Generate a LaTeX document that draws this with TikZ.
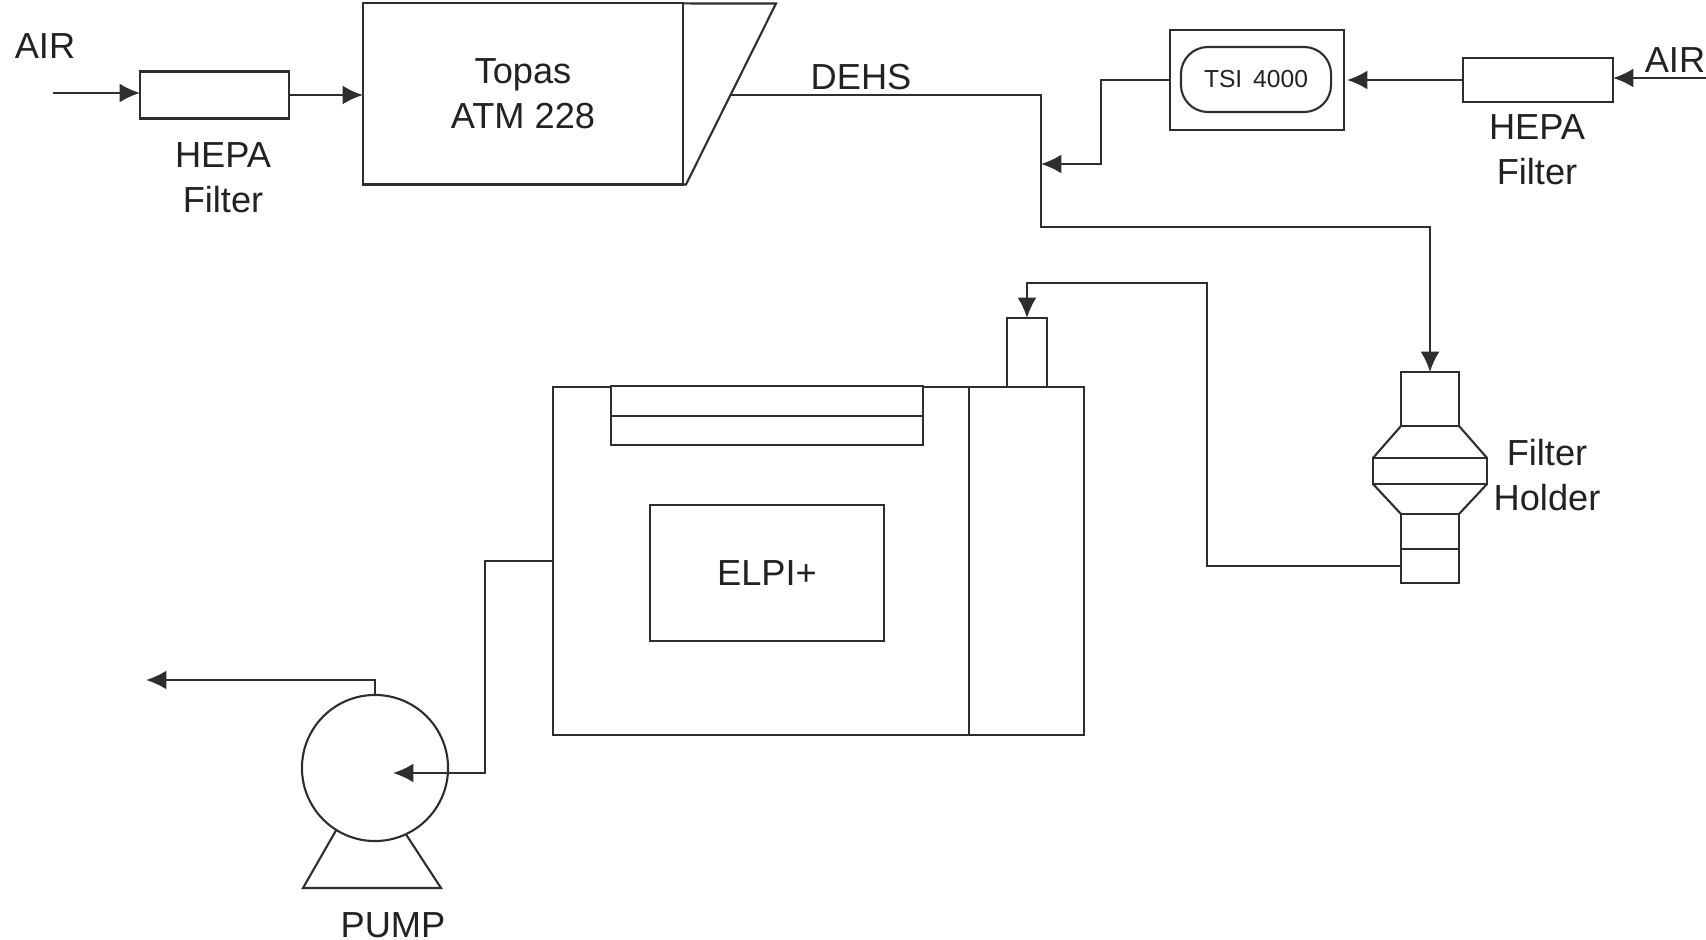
\documentclass[tikz,border=0pt]{standalone}
\usepackage{fontspec}
\setmainfont{Liberation Sans}
\usetikzlibrary{arrows.meta}
\definecolor{linegray}{HTML}{2E2E2E}
\definecolor{textgray}{HTML}{222222}
\tikzset{
    pipe/.style={draw=linegray, line width=0.6pt},
    flow/.style={pipe, -{Latex[length=5.8pt,width=5.4pt]}},
    unit/.style={pipe, rectangle, fill=white, inner sep=0pt, outer sep=0pt},
    tag/.style={text=textgray, align=center, inner sep=0pt, font=\fontsize{10.3}{12.8}\selectfont},
}
\begin{document}
\begin{tikzpicture}[x=0.01cm, y=-0.01cm]
    \useasboundingbox (0,0) rectangle (1706,940);
    % Aerosol generator
    \node[unit, minimum width=1.49cm, minimum height=0.47cm] (hepaA) at (214.5,95) {};
    \node[unit, tag, minimum width=3.2cm, minimum height=1.81cm] (topas) at (523,94) {Topas\\ATM 228};
    \coordinate (nozzleA) at (776,3.5);
    \coordinate (nozzleB) at (686,184.5);
    \draw[pipe] (topas.north east) -- (nozzleA) -- (nozzleB) -- (topas.south east);
    \node[tag] (airA) at (45,46) {AIR};
    \node[tag] (hepaAtxt) at (223,178) {HEPA\\Filter};
    \node[tag] (dehs) at (861,77) {DEHS};
    \coordinate (airAin) at (53,93);
    \coordinate (dehsOut) at (731,95);
    \coordinate (mix) at (1041,164);
    \coordinate (bend) at (1041,227);
    \draw[flow] (airAin) -- (airAin -| hepaA.west);
    \draw[flow] (hepaA.east) -- (hepaA.east -| topas.west);
    % Neutralizer
    \node[unit, minimum width=1.74cm, minimum height=1cm] (tsiBox) at (1257,80) {};
    \node[unit, tag, rounded corners=0.27cm, minimum width=1.5cm, minimum height=0.65cm, font=\fontsize{7}{9}\selectfont] (tsi) at (1256,79.5) {TSI\ \,4000};
    \node[unit, minimum width=1.5cm, minimum height=0.44cm] (hepaB) at (1538,80) {};
    \node[tag] (airB) at (1675,60) {AIR};
    \node[tag] (hepaBtxt) at (1537,150) {HEPA\\Filter};
    \coordinate (airBin) at (1706,78);
    \coordinate (tsiDrop) at (1101,164);
    \coordinate (tsiIn) at (1347,80);
    \draw[flow] (airBin) -- (airBin -| hepaB.east);
    \draw[flow] (hepaB.west) -- (tsiIn);
    \draw[flow] (tsiBox.west) -| (tsiDrop) -- (mix);
    % Filter holder
    \node[unit, minimum width=0.58cm, minimum height=0.54cm] (holderTop) at (1430,399) {};
    \node[unit, minimum width=1.14cm, minimum height=0.26cm] (holderBand) at (1430,471) {};
    \node[unit, minimum width=0.58cm, minimum height=0.35cm] (holderLow) at (1430,531.5) {};
    \node[unit, minimum width=0.58cm, minimum height=0.34cm] (holderEnd) at (1430,566) {};
    \foreach \a/\b in {holderTop.south west/holderBand.north west, holderTop.south east/holderBand.north east, holderLow.north west/holderBand.south west, holderLow.north east/holderBand.south east} {
        \draw[pipe] (\a) -- (\b);
    }
    \node[tag] (holderTxt) at (1547,475) {Filter\\Holder};
    \draw[flow] (dehsOut) -| (bend) -| (holderTop.north);
    % ELPI+
    \node[unit, minimum width=4.16cm, minimum height=3.47cm] (elpi) at (761,561) {};
    \node[unit, minimum width=1.15cm, minimum height=3.47cm] (elpiSide) at (1026.5,561) {};
    \node[unit, minimum width=3.12cm, minimum height=0.3cm] (slotA) at (767,401) {};
    \node[unit, minimum width=3.12cm, minimum height=0.29cm] (slotB) at (767,430.5) {};
    \node[unit, tag, minimum width=2.34cm, minimum height=1.36cm] (elpiTxt) at (767,573) {ELPI+};
    \node[unit, minimum width=0.4cm, minimum height=0.69cm] (inlet) at (1027,352.5) {};
    \coordinate (loop) at (1207,283);
    \draw[flow] (holderEnd.west) -| (loop) -| (inlet.north);
    % Pump
    \node[pipe, circle, inner sep=0pt, outer sep=0pt, minimum size=1.46cm] (pump) at (375,768) {};
    \coordinate (baseL) at (303,888);
    \coordinate (baseR) at (441,888);
    \coordinate (pumpDrop) at (485,773);
    \coordinate (pumpIn) at (393,773);
    \coordinate (exhaust) at (146,680);
    \draw[pipe] (pump.-122) -- (baseL) -- (baseR) -- (pump.-65);
    \draw[flow] (elpi.west) -| (pumpDrop) -- (pumpIn);
    \draw[flow] (pump.north) |- (exhaust);
    \node[tag] (pumpTxt) at (393,925) {PUMP};
\end{tikzpicture}
\end{document}
